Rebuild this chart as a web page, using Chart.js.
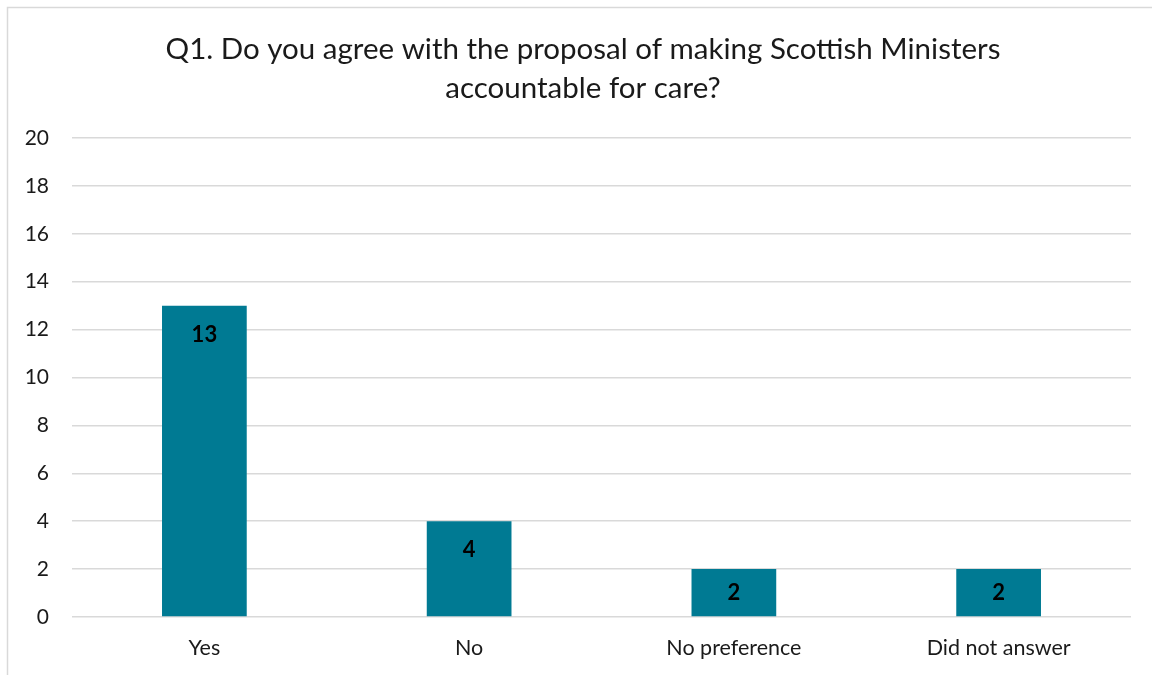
<!DOCTYPE html>
<html>
<head>
<meta charset="utf-8">
<script src="https://cdn.jsdelivr.net/npm/chart.js@4"></script>
<style>
html,body{margin:0;padding:0;background:#fff;}
#wrap{position:absolute;left:0;top:0;width:1152px;height:675px;}
</style>
</head>
<body>
<div id="wrap"><canvas id="c" width="1152" height="675"></canvas></div>
<script>
const categories = ["Yes", "No", "No preference", "Did not answer"];
const responses = [13, 4, 2, 2];
const titleLines = ["Q1. Do you agree with the proposal of making Scottish Ministers", "accountable for care?"];
const yMin = 0, yMax = 20, yStep = 2;

const FONT = "Lato, 'Open Sans', sans-serif";
const TEXT = '#1a1a1a';

const framePlugin = {
  id: 'frame',
  beforeDraw(chart) {
    const ctx = chart.ctx;
    ctx.save();
    ctx.fillStyle = '#fff';
    ctx.fillRect(0, 0, chart.width, chart.height);
    ctx.strokeStyle = '#d9d9d9';
    ctx.lineWidth = 1.5;
    ctx.strokeRect(7.5, 7.5, 1160, 700);
    ctx.restore();
  },
  afterDraw(chart) {
    const ctx = chart.ctx;
    ctx.save();
    ctx.fillStyle = TEXT;
    ctx.font = "29.5px " + FONT;
    ctx.textAlign = 'center';
    ctx.textBaseline = 'middle';
    ctx.fillText(titleLines[0], 583, 49);
    ctx.fillText(titleLines[1], 583, 88);
    ctx.restore();
  }
};

const labelPlugin = {
  id: 'barLabels',
  afterDatasetsDraw(chart) {
    const ctx = chart.ctx;
    const meta = chart.getDatasetMeta(0);
    ctx.save();
    ctx.fillStyle = '#000';
    ctx.font = "bold 22px " + FONT;
    ctx.textAlign = 'center';
    ctx.textBaseline = 'middle';
    meta.data.forEach((bar, i) => {
      const top = bar.y, base = bar.base;
      const y = Math.min(top + 29, (top + base) / 2);
      ctx.fillText(String(responses[i]), bar.x, y);
    });
    ctx.restore();
  }
};

new Chart(document.getElementById('c'), {
  type: 'bar',
  data: {
    labels: categories,
    datasets: [{
      data: responses,
      backgroundColor: '#007A93',
      borderWidth: 0,
      barPercentage: 0.64,
      categoryPercentage: 0.5
    }]
  },
  options: {
    responsive: false,
    animation: false,
    devicePixelRatio: 1,
    layout: { padding: { top: 138, right: 21, bottom: 0, left: 0 } },
    plugins: {
      legend: { display: false },
      title: { display: false },
      tooltip: { enabled: false }
    },
    scales: {
      x: {
        grid: { display: false, drawTicks: false },
        border: { display: false },
        ticks: { color: TEXT, font: { family: FONT, size: 21.5 }, padding: 18 },
        afterFit(scale) { scale.height = 58; }
      },
      y: {
        min: yMin, max: yMax,
        grid: { color: '#d9d9d9', lineWidth: 1.5, drawTicks: false },
        border: { display: false },
        ticks: { stepSize: yStep, color: TEXT, font: { family: FONT, size: 21 }, padding: 23 },
        afterFit(scale) { scale.width = 72; }
      }
    }
  },
  plugins: [framePlugin, labelPlugin]
});
</script>
</body>
</html>
